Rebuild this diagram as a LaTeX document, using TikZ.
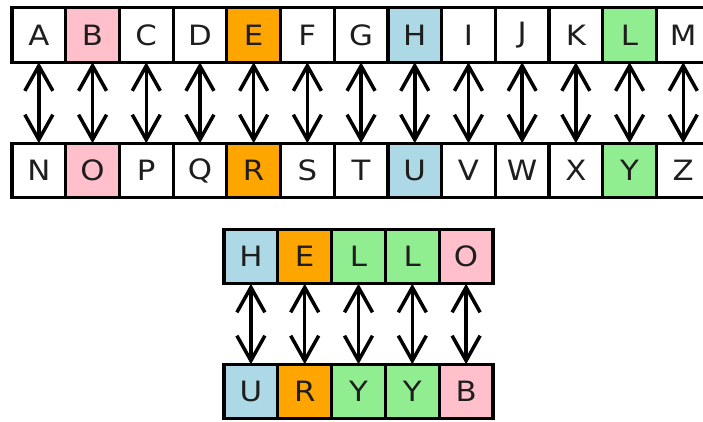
\documentclass[tikz,border=0pt]{standalone}
\usepackage{fontspec}
\setmainfont{DejaVu Sans}[FakeStretch=1.1]
\usetikzlibrary{arrows.meta}
\definecolor{cpink}{HTML}{FFC0CB}
\definecolor{corange}{HTML}{FFA500}
\definecolor{cblue}{HTML}{ADD8E6}
\definecolor{cgreen}{HTML}{90EE90}
\definecolor{ctext}{HTML}{1E1E1E}
\begin{document}
\begin{tikzpicture}[x=1pt,y=-1pt,
  cell/.style={draw=black, line width=3.2pt, fill=white, minimum width=53.7pt, minimum height=54.5pt,
    inner sep=0pt, outer sep=0pt, font=\fontsize{28}{28}\selectfont, text=ctext},
  link/.style={line width=3.5pt, {Straight Barb[length=25pt,width=28pt]}-{Straight Barb[length=25pt,width=28pt]}}]
\useasboundingbox (0,0) rectangle (703,421);
\begin{scope}
\clip (0,0) rectangle (703,421);
% top alphabet row
\foreach \L/\c [count=\i from 0] in {A/white,B/cpink,C/white,D/white,E/corange,F/white,G/white,H/cblue,I/white,J/white,K/white,L/cgreen,M/white}{
  \node[cell, fill=\c] (t\i) at ({38.85+53.7*\i},35) {\L};
}
\foreach \L/\c [count=\i from 0] in {N/white,O/cpink,P/white,Q/white,R/corange,S/white,T/white,U/cblue,V/white,W/white,X/white,Y/cgreen,Z/white}{
  \node[cell, fill=\c] (b\i) at ({38.85+53.7*\i},170.5) {\L};
}
\foreach \i in {0,...,12}{
  \draw[link] (t\i.south) -- (b\i.north);
}
% HELLO
\foreach \L/\c [count=\i from 0] in {H/cblue,E/corange,L/cgreen,L/cgreen,O/cpink}{
  \node[cell, fill=\c] (h\i) at ({250.9+53.8*\i},256.5) {\L};
}
\foreach \L/\c [count=\i from 0] in {U/cblue,R/corange,Y/cgreen,Y/cgreen,B/cpink}{
  \node[cell, fill=\c] (u\i) at ({250.9+53.8*\i},391.5) {\L};
}
\foreach \i in {0,...,4}{
  \draw[link] (h\i.south) -- (u\i.north);
}
\end{scope}
\end{tikzpicture}
\end{document}
